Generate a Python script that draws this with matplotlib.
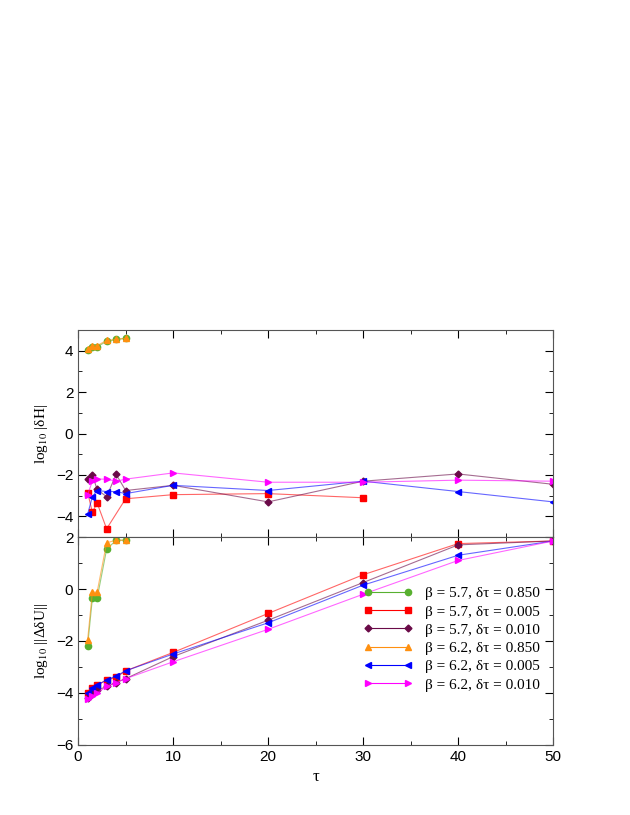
import matplotlib
matplotlib.use("Agg")
import matplotlib.pyplot as plt
from matplotlib.ticker import MultipleLocator

plt.rcParams["font.family"] = "Liberation Serif"
plt.rcParams["mathtext.fontset"] = "stix"

tau_short = [1, 1.5, 2, 3, 4, 5]
tau_red = [1, 1.5, 2, 3, 5, 10, 20, 30]
tau_long = [1, 1.5, 2, 3, 4, 5, 10, 20, 30, 40, 50]
tau_red_u = [1, 1.5, 2, 3, 4, 5, 10, 20, 30, 40, 50]

labels = [
    "β = 5.7, δτ = 0.850",
    "β = 5.7, δτ = 0.005",
    "β = 5.7, δτ = 0.010",
    "β = 6.2, δτ = 0.850",
    "β = 6.2, δτ = 0.005",
    "β = 6.2, δτ = 0.010",
]
colors = ["#58b030", "#ff0000", "#6a0a48", "#ff9010", "#0000ff", "#ff00ff"]
markers = ["o", "s", "D", "^", "<", ">"]

# log10 |dH|
dh_57_085 = [4.05, 4.2, 4.2, 4.45, 4.55, 4.6]
dh_57_0005 = [-2.85, -3.8, -3.35, -4.6, -3.15, -2.95, -2.9, -3.1]
dh_57_0010 = [-2.2, -2.0, -2.7, -3.05, -1.97, -2.75, -2.5, -3.3, -2.3, -1.95, -2.45]
dh_62_085 = [4.1, 4.25, 4.25, 4.5, 4.55, 4.6]
dh_62_0005 = [-3.9, -3.05, -2.75, -2.8, -2.8, -2.9, -2.5, -2.75, -2.3, -2.8, -3.3]
dh_62_0010 = [-2.95, -2.3, -2.2, -2.2, -2.3, -2.2, -1.9, -2.35, -2.35, -2.25, -2.3]

# log10 ||ddU||
du_57_085 = [-2.19, -0.36, -0.36, 1.53, 1.88, 1.88]
du_57_0005 = [-4.0, -3.8, -3.7, -3.5, -3.4, -3.15, -2.44, -0.94, 0.55, 1.75, 1.85]
du_57_0010 = [-4.2, -4.05, -3.9, -3.75, -3.6, -3.45, -2.6, -1.2, 0.25, 1.7, 1.85]
du_62_085 = [-1.96, -0.12, -0.12, 1.78, 1.88, 1.88]
du_62_0005 = [-4.0, -3.8, -3.7, -3.5, -3.35, -3.15, -2.5, -1.3, 0.15, 1.3, 1.85]
du_62_0010 = [-4.25, -4.1, -4.0, -3.75, -3.6, -3.45, -2.8, -1.55, -0.2, 1.1, 1.85]

dh_series = [(tau_short, dh_57_085), (tau_red, dh_57_0005), (tau_long, dh_57_0010),
             (tau_short, dh_62_085), (tau_long, dh_62_0005), (tau_long, dh_62_0010)]
du_series = [(tau_short, du_57_085), (tau_red_u, du_57_0005), (tau_long, du_57_0010),
             (tau_short, du_62_085), (tau_long, du_62_0005), (tau_long, du_62_0010)]

fig = plt.figure(figsize=(6.3, 8.15), dpi=100)
ax1 = fig.add_axes([0.124, 0.341, 0.754, 0.254])
ax2 = fig.add_axes([0.124, 0.086, 0.754, 0.255])


def draw(ax, series):
    for (x, y), c, m, lab in zip(series, colors, markers, labels):
        ms = 3.5 if m == "D" else 4.5
        ax.plot(x, y, color=c, lw=0.8, alpha=0.6)
        ax.plot(x, y, ls="none", marker=m, color=c, ms=ms)
        ax.plot([], [], color=c, lw=0.8, marker=m, ms=ms, label=lab)
    ax.set_xlim(0, 50)
    ax.xaxis.set_major_locator(MultipleLocator(10))
    ax.xaxis.set_minor_locator(MultipleLocator(5))
    ax.yaxis.set_minor_locator(MultipleLocator(1))
    ax.tick_params(which="both", direction="in", top=True, right=True, labelsize=11)
    ax.tick_params(which="major", length=6)
    ax.tick_params(which="minor", length=3)
    for t in ax.get_xticklabels() + ax.get_yticklabels():
        t.set_fontfamily("Liberation Sans")
    for s in ax.spines.values():
        s.set_color("#555555")
        s.set_linewidth(0.8)


ax1.set_ylim(-5, 5)
ax1.set_yticks([-4, -2, 0, 2, 4])
ax1.tick_params(labelbottom=False)
draw(ax1, dh_series)
ax1.set_ylabel(r"log$_{10}$ |δH|", fontsize=11)

ax2.set_ylim(-6, 2)
ax2.set_yticks([-6, -4, -2, 0, 2])
draw(ax2, du_series)
ax2.set_xlabel("τ", fontsize=12)
ax2.set_ylabel(r"log$_{10}$ ||ΔδU||", fontsize=11)
ax2.legend(loc="lower right", bbox_to_anchor=(1.0, 0.19), frameon=False, numpoints=2,
           fontsize=11, handlelength=3.2, labelspacing=0.3)

plt.savefig("out.png", dpi=100)
